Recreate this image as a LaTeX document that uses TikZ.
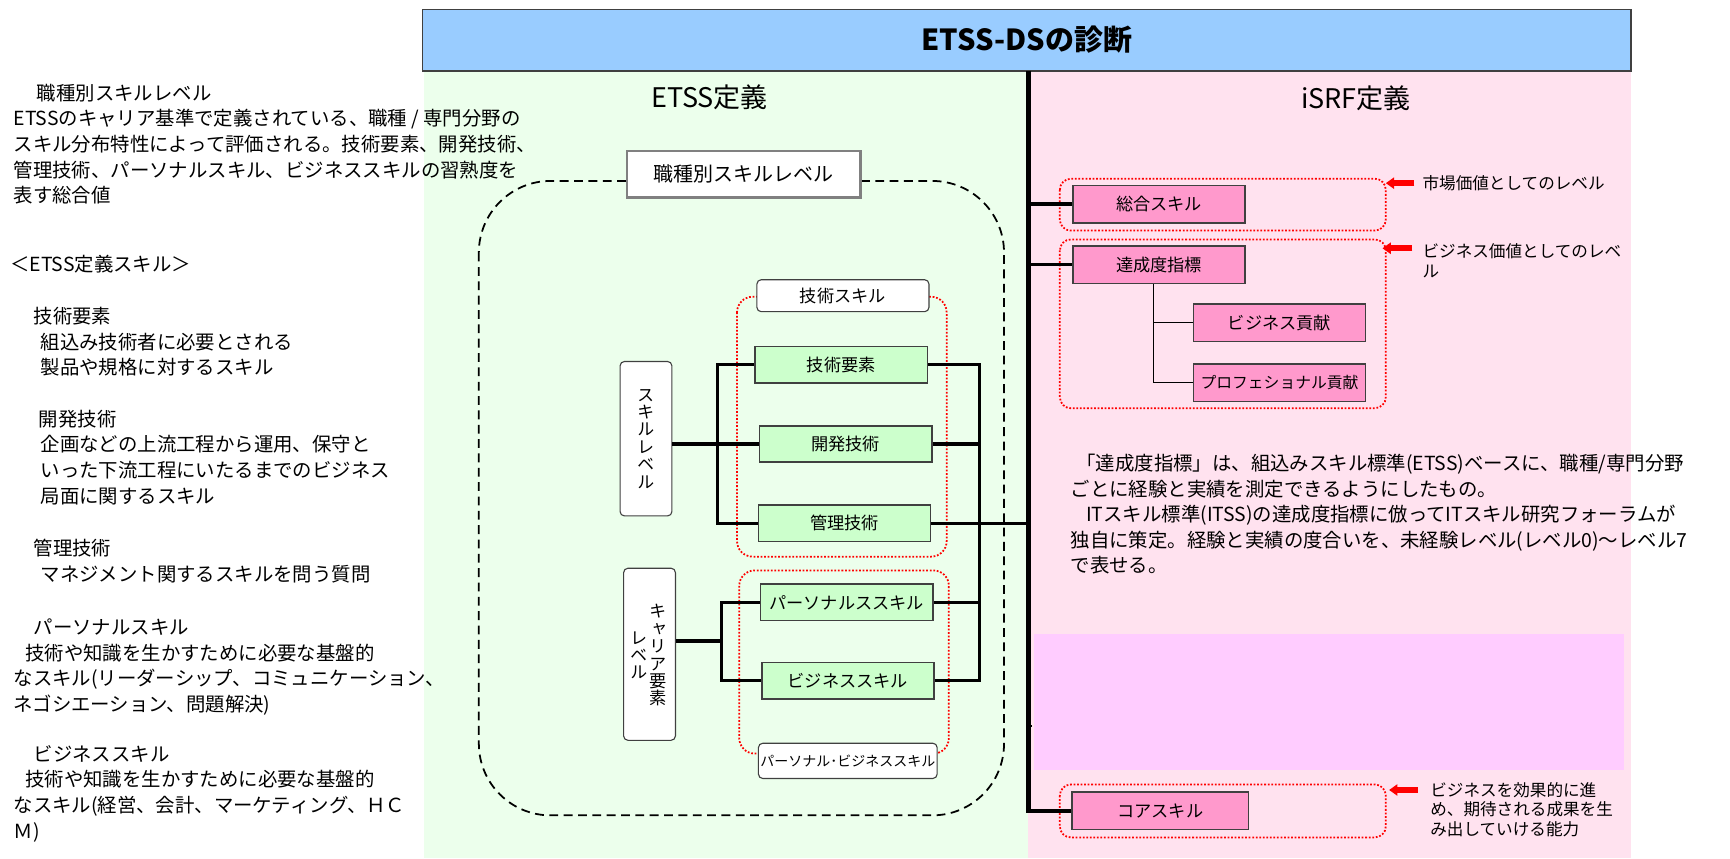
\documentclass[tikz,border=0pt]{standalone}
\usepackage{fontspec}
\setmainfont{Noto Sans CJK JP}
\newfontfamily\vertfont[RawFeature=+vert]{Noto Sans CJK JP}
\usetikzlibrary{arrows.meta}

\newlength{\pxu}
\setlength{\pxu}{0.5517pt}

\definecolor{titleblue}{RGB}{153,204,255}
\definecolor{etssbg}{RGB}{236,255,236}
\definecolor{isrfbg}{RGB}{255,226,239}
\definecolor{skillgreen}{RGB}{204,255,204}
\definecolor{skillpink}{RGB}{255,153,204}
\definecolor{notemagenta}{RGB}{255,204,255}
\definecolor{boxline}{RGB}{64,64,64}
\definecolor{framegray}{RGB}{128,128,128}

\tikzset{
  bodytext/.style={inner sep=0pt, anchor=north west, align=left, font=\fontsize{9.7}{12.8}\selectfont},
  notetext/.style={inner sep=0pt, anchor=north west, align=left, font=\fontsize{8.3}{9.9}\selectfont},
  greenbox/.style={draw=boxline, line width=1.4\pxu, fill=skillgreen, minimum width=156\pxu, minimum height=33\pxu, inner sep=0pt, font=\fontsize{8.6}{10}\selectfont},
  pinkbox/.style={greenbox, fill=skillpink, minimum height=34\pxu},
  capbox/.style={draw=boxline, line width=1\pxu, fill=white, rounded corners=4\pxu, inner sep=0pt, font=\fontsize{8.6}{10}\selectfont},
  levelbox/.style={capbox, minimum width=47\pxu},
  verttext/.style={inner sep=0pt, align=center, font=\vertfont\fontsize{8.6}{8.7}\selectfont},
  bus/.style={line width=3\pxu},
  twig/.style={line width=1\pxu},
  bigframe/.style={line width=1.6\pxu, dash pattern=on 8\pxu off 5\pxu, rounded corners=65\pxu},
  grp/.style={draw=red, line width=1.6\pxu, dash pattern=on 1.6\pxu off 1.6\pxu, rounded corners=14\pxu},
  redarrow/.style={draw=red, line width=3pt, -{Triangle[length=4.2pt, width=5.6pt]}},
}

\begin{document}
\begin{tikzpicture}[x=\pxu, y=-\pxu]
\useasboundingbox (0,0) rectangle (1568,778);
% backgrounds
\fill[etssbg] (384,64) rectangle (932,778);
\fill[isrfbg] (932,64) rectangle (1478,778);
\fill[notemagenta] (937,575) rectangle (1472,698);
\node[draw=boxline, line width=1.5\pxu, fill=titleblue, minimum width=1095\pxu, minimum height=55.5\pxu, font=\fontsize{14.5}{17}\selectfont\bfseries] (title) at (930.5,36.3) {ETSS-DSの診断};
\node[font=\fontsize{13.5}{16}\selectfont] (etsshead) at (643,88) {ETSS定義};
\node[font=\fontsize{13.5}{16}\selectfont] (isrfhead) at (1229,89) {iSRF定義};

% left notes
\node[bodytext] (notejob) at (12,75.8) {\hspace*{1.2em}職種別スキルレベル\\ETSSのキャリア基準で定義されている、職種 / 専門分野の\\スキル分布特性によって評価される。技術要素、開発技術、\\管理技術、パーソナルスキル、ビジネススキルの習熟度を\\表す総合値};
\node[bodytext] (notehead) at (9,231.2) {＜ETSS定義スキル＞};
\node[bodytext] (notetech) at (12,278.2) {\hspace*{1.03em}技術要素\\\hspace*{1.4em}組込み技術者に必要とされる\\\hspace*{1.4em}製品や規格に対するスキル};
\node[bodytext] (notedev) at (12,371.2) {\hspace*{1.3em}開発技術\\\hspace*{1.4em}企画などの上流工程から運用、保守と\\\hspace*{1.4em}いった下流工程にいたるまでのビジネス\\\hspace*{1.4em}局面に関するスキル};
\node[bodytext] (notemgmt) at (12,488.2) {\hspace*{1.03em}管理技術\\\hspace*{1.4em}マネジメント関するスキルを問う質問};
\node[bodytext] (notepers) at (12,560.7) {\hspace*{1.03em}パーソナルスキル\\\hspace*{0.6em}技術や知識を生かすために必要な基盤的\\なスキル(リーダーシップ、コミュニケーション、\\ネゴシエーション、問題解決)};
\node[bodytext] (notebiz) at (12,675.2) {\hspace*{1.03em}ビジネススキル\\\hspace*{0.6em}技術や知識を生かすために必要な基盤的\\なスキル(経営、会計、マーケティング、ＨＣ\\Ｍ)};

% ETSS side
\draw[bigframe] (434,164) rectangle (910,739);
\draw[grp] (668,269) rectangle (858,504.5);
\draw[grp] (670,517) rectangle (860,683);
\node[draw=framegray, line width=2\pxu, fill=white, minimum width=212\pxu, minimum height=42\pxu, font=\fontsize{10}{12}\selectfont] (shokushu) at (674,158) {職種別スキルレベル};
\node[capbox, minimum width=156\pxu, minimum height=29\pxu] (techskill) at (764,268) {技術スキル};
\node[capbox, minimum width=162\pxu, minimum height=32\pxu, font=\fontsize{7}{8}\selectfont] (pbskill) at (768.4,689.6) {パーソナル･ビジネススキル};
\foreach \name/\x/\y/\txt in {gijutsu/762.5/330.5/技術要素, kaihatsu/766.5/402.4/開発技術, kanri/765.5/474.3/管理技術, persona/767.4/546/パーソナルススキル, business/768.5/617/ビジネススキル}
  \node[greenbox] (\name) at (\x,\y) {\txt};
\node[levelbox, minimum height=140\pxu] (skilllv) at (585.5,397.6) {};
\node[verttext] (skilltxt) at (skilllv) {ス\\キ\\ル\\レ\\ベ\\ル};
\node[levelbox, minimum height=156\pxu] (careerlv) at (588.7,593) {};
\node[verttext] (careertxt) at (596.6,594) {キ\\ャ\\リ\\ア\\要\\素};
\node[verttext] (leveltxt) at (579,594) {レ\\ベ\\ル};

\coordinate (lbus) at (650,0);
\coordinate (cbus) at (654,581);
\coordinate (rbus) at (887.6,0);
\coordinate (vline) at (932,64);
\draw[bus] (skilllv.east |- kaihatsu.west) -- (kaihatsu.west);
\draw[bus] (gijutsu.west) -- (gijutsu.west -| lbus) -- (kanri.west -| lbus) -- (kanri.west);
\draw[bus] (careerlv.east |- cbus) -- (cbus);
\draw[bus] (persona.west) -- (persona.west -| cbus) -- (business.west -| cbus) -- (business.west);
\draw[bus] (gijutsu.east) -- (gijutsu.east -| rbus) -- (business.east -| rbus) -- (business.east);
\foreach \n in {kaihatsu,kanri,persona}
  \draw[bus] (\n.east) -- (\n.east -| rbus);
\draw[bus] (kanri.east -| rbus) -- (kanri.east -| vline);

% iSRF side
\draw[grp, rounded corners=10\pxu] (960.6,162) rectangle (1256,209);
\draw[grp, rounded corners=10\pxu] (960.6,217) rectangle (1256,370);
\draw[grp, rounded corners=10\pxu] (960.6,711) rectangle (1256,759);
\node[pinkbox] (sougou) at (1050.5,185) {総合スキル};
\node[pinkbox] (tassei) at (1050.5,240) {達成度指標};
\node[pinkbox] (bizkoken) at (1159.7,292.6) {ビジネス貢献};
\node[pinkbox, font=\fontsize{7.9}{9}\selectfont] (prokoken) at (1159.7,347) {プロフェショナル貢献};
\node[pinkbox, minimum width=160\pxu] (core) at (1051.7,735) {コアスキル};

\draw[line width=4\pxu] (vline) |- (core.west);
\draw[bus] (sougou.west -| vline) -- (sougou.west);
\draw[bus] (tassei.west -| vline) -- (tassei.west);
\draw[line width=2\pxu] (932,657.7) -- ++(3,0);
\coordinate (treetop) at ([xshift=-5\pxu]tassei.south);
\draw[twig] (treetop) |- (prokoken.west);
\draw[twig] (treetop |- bizkoken.west) -- (bizkoken.west);

\node[notetext, anchor=base west] (mktlv) at (1289,171.5) {市場価値としてのレベル};
\node[notetext] (bizlv) at (1289,220.5) {ビジネス価値としてのレベ\\ル};
\node[notetext] (corelv) at (1296,708.5) {ビジネスを効果的に進\\め、期待される成果を生\\み出していける能力};
\coordinate (tip1) at (1256,166);
\coordinate (tail1) at (1282,166);
\coordinate (tip2) at (1253,225);
\coordinate (tail2) at (1280,225);
\coordinate (tip3) at (1259,716);
\coordinate (tail3) at (1285,716);
\foreach \i in {1,2,3}
  \draw[redarrow] (tail\i) -- (tip\i);

\node[bodytext] (tasseinote) at (970,411.2) {\hspace*{0.3em}「達成度指標」は、組込みスキル標準(ETSS)ベースに、職種/専門分野\\ごとに経験と実績を測定できるようにしたもの。\\\hspace*{0.8em}ITスキル標準(ITSS)の達成度指標に倣ってITスキル研究フォーラムが\\独自に策定。経験と実績の度合いを、未経験レベル(レベル0)～レベル7\\で表せる。};
\end{tikzpicture}
\end{document}
